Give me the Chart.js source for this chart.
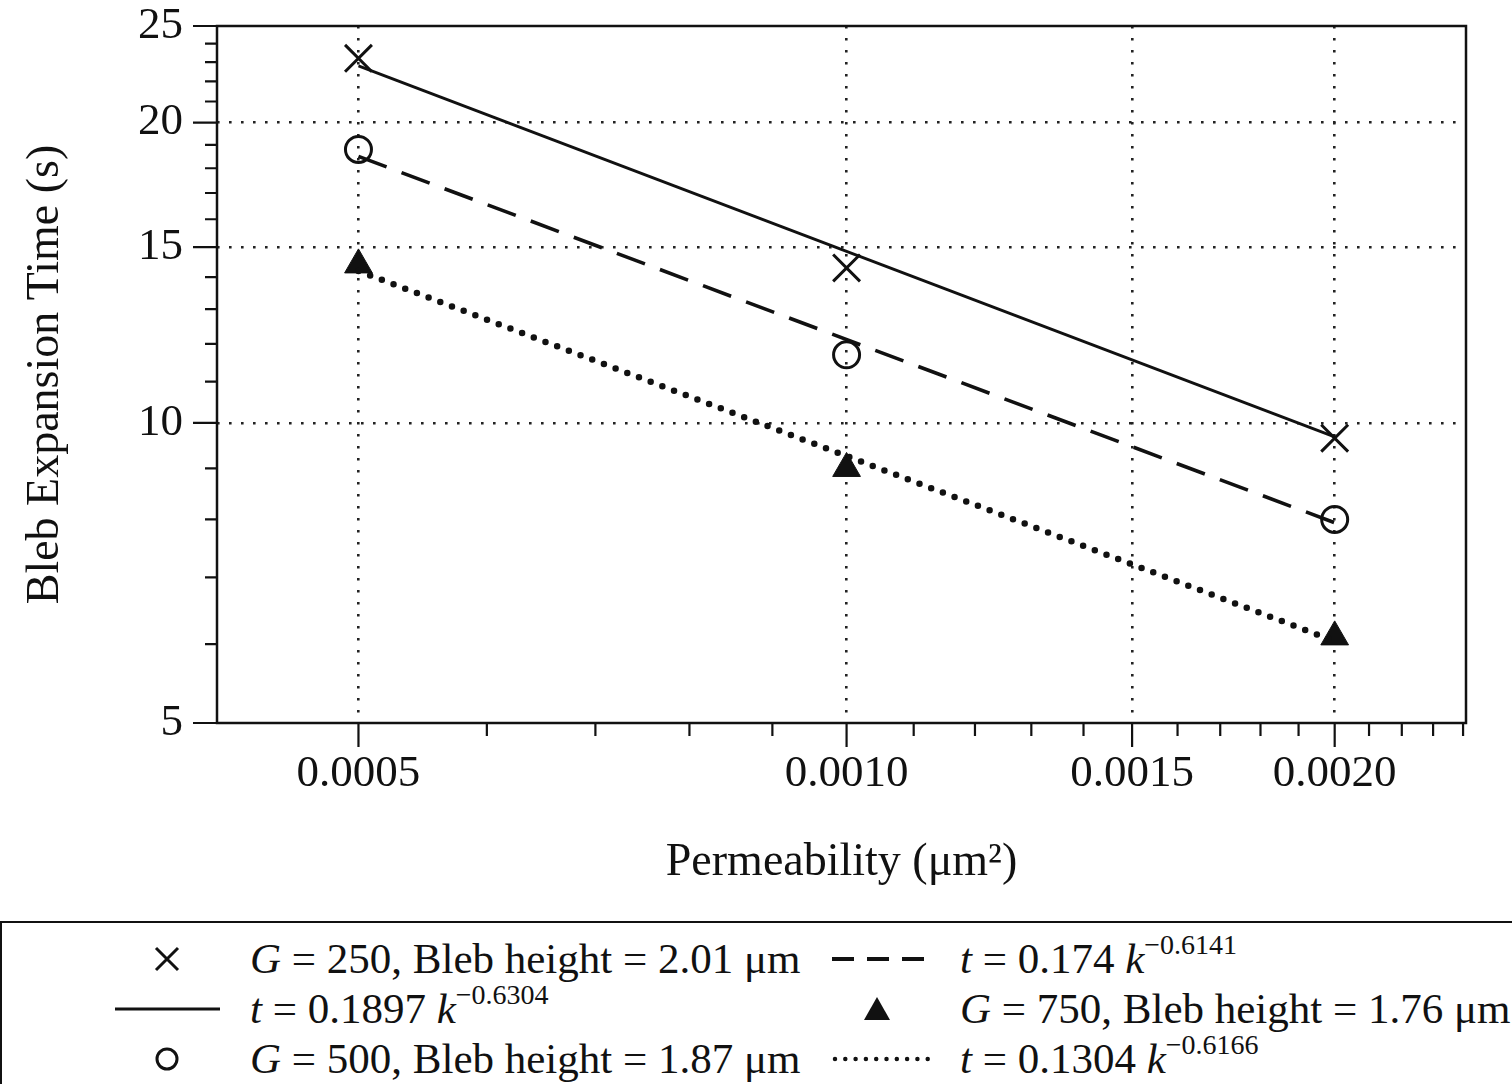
<!DOCTYPE html>
<html>
<head>
	<meta charset="UTF-8">
	<title>bleb expansion</title>
	<script src="https://cdn.jsdelivr.net/npm/chart.js"></script>
	<style>
	body{margin:0; background:#fff; width:1512px; height:1084px; overflow:hidden; position:relative;}
	#wrap{position:absolute; left:0; top:0; width:1512px; height:915px;}
	#legend{position:absolute; left:0; top:921px; width:1530px; height:200px; border:2px solid #111; box-sizing:border-box;
		font-family:"Liberation Serif", "DejaVu Serif", serif; font-size:43px; color:#111;}
	.row{position:absolute; left:0; height:50px; line-height:50px; white-space:nowrap;}
	.sym{position:absolute; top:0; height:50px;}
	.txt{position:absolute; top:0;}
	.txt i{font-style:italic;}
	.txt sup{font-size:28px; vertical-align:0; position:relative; top:-19px;}
	</style>
	<script>
	// data
	var perm = [0.0005, 0.0010, 0.0020];
	var g250 = [23.2, 14.3, 9.65];
	var g500 = [18.8, 11.7, 8.0];
	var g750 = [14.4, 9.0, 6.1];

	// fitted power law lines, endpoints
	var fitX = [0.0005, 0.0020];
	var fit250 = [22.8, 9.68];
	var fit500 = [18.5, 7.94];
	var fit750 = [14.2, 6.04];

	var xTicks = [0.0005, 0.0006, 0.0007, 0.0008, 0.0009, 0.0010, 0.0011, 0.0012, 0.0013, 0.0014, 0.0015,
		0.0016, 0.0017, 0.0018, 0.0019, 0.0020, 0.0021, 0.0022, 0.0023, 0.0024];
	var xLabels = {'0.0005':'0.0005', '0.001':'0.0010', '0.0015':'0.0015', '0.002':'0.0020'};
	var yTicks = [5, 6, 7, 8, 9, 10, 11, 12, 13, 14, 15, 16, 17, 18, 19, 20, 21, 22, 23, 24, 25];
	var yLabels = {'5':'5', '10':'10', '15':'15', '20':'20', '25':'25'};

	function pts(xs, ys){
		var out = [];
		for(var i=0;i<xs.length;i++) out.push({x:xs[i], y:ys[i]});
		return out;
	}
	function xKey(v){ return String(Math.round(v*10000)/10000); }
	function yKey(v){ return String(Math.round(v)); }

	var FONT = "'Liberation Serif', 'DejaVu Serif', serif";
	var INK = '#111';

	// frame + tick marks drawn from the scales
	var frameTicks = {
		id:'frameTicks',
		afterDraw: function(chart){
			var ctx = chart.ctx, a = chart.chartArea;
			var xs = chart.scales.x, ys = chart.scales.y;
			ctx.save();
			ctx.strokeStyle = INK;
			ctx.lineWidth = 2.5;
			ctx.strokeRect(a.left, a.top, a.right-a.left, a.bottom-a.top);
			ctx.lineWidth = 2.2;
			ctx.beginPath();
			xs.ticks.forEach(function(t){
				var px = xs.getPixelForValue(t.value);
				var len = xLabels[xKey(t.value)] ? 24 : 13;
				ctx.moveTo(px, a.bottom); ctx.lineTo(px, a.bottom+len);
			});
			ys.ticks.forEach(function(t){
				var py = ys.getPixelForValue(t.value);
				var len = yLabels[yKey(t.value)] ? 24 : 12;
				ctx.moveTo(a.left-len, py); ctx.lineTo(a.left, py);
			});
			ctx.stroke();
			ctx.restore();
		}
	};

	window.onload = function(){
		var ctx = document.getElementById('myChart');
		new Chart(ctx, {
			type:'line',
			data:{
				datasets:[{
					label:'t = 0.1897 k^-0.6304',
					data:pts(fitX, fit250),
					borderColor:INK, borderWidth:2.8, pointRadius:0, fill:false
				},{
					label:'t = 0.174 k^-0.6141',
					data:pts(fitX, fit500),
					borderColor:INK, borderWidth:3.6, borderDash:[30,16], pointRadius:0, fill:false
				},{
					label:'t = 0.1304 k^-0.6166',
					data:pts(fitX, fit750),
					borderColor:INK, borderWidth:6.5, borderDash:[0,12.5], borderCapStyle:'round', pointRadius:0, fill:false
				},{
					label:'G = 250, Bleb height = 2.01 μm',
					data:pts(perm, g250), showLine:false,
					pointStyle:'crossRot', pointRadius:19, pointBorderWidth:3, pointBorderColor:INK
				},{
					label:'G = 500, Bleb height = 1.87 μm',
					data:pts(perm, g500), showLine:false,
					pointStyle:'circle', pointRadius:13, pointBorderWidth:3, pointBorderColor:INK, pointBackgroundColor:'rgba(0,0,0,0)'
				},{
					label:'G = 750, Bleb height = 1.76 μm',
					data:pts(perm, g750), showLine:false,
					pointStyle:'triangle', pointRadius:16, pointBorderWidth:1, pointBorderColor:INK, pointBackgroundColor:INK
				}]
			},
			options:{
				responsive:false,
				animation:false,
				events:[],
				layout:{padding:{top:26, right:46, left:0, bottom:0}},
				plugins:{legend:{display:false}, tooltip:{enabled:false}},
				scales:{
					x:{
						type:'logarithmic',
						min:0.000409, max:0.00241,
						afterBuildTicks:function(s){ s.ticks = xTicks.map(function(v){ return {value:v}; }); },
						afterFit:function(s){ s.height = 192; s.paddingLeft = 0; s.paddingRight = 0; },
						ticks:{
							autoSkip:false, maxRotation:0, minRotation:0, padding:24, color:INK,
							font:{family:FONT, size:45},
							callback:function(v){ return xLabels[xKey(v)] || ''; }
						},
						grid:{
							drawTicks:false, lineWidth:2.6,
							color:function(c){ return (c.tick && xLabels[xKey(c.tick.value)]) ? '#222' : 'rgba(0,0,0,0)'; }
						},
						border:{display:false, dash:[2.6,9.4]},
						title:{display:true, text:'Permeability (μm²)', color:INK, padding:{top:0, bottom:24},
							font:{family:FONT, size:46}}
					},
					y:{
						type:'logarithmic',
						min:5, max:25,
						afterBuildTicks:function(s){ s.ticks = yTicks.map(function(v){ return {value:v}; }); },
						afterFit:function(s){ s.width = 217; s.paddingTop = 0; s.paddingBottom = 0; },
						ticks:{
							autoSkip:false, padding:34, color:INK,
							font:{family:FONT, size:45},
							callback:function(v){ return yLabels[yKey(v)] || ''; }
						},
						grid:{
							drawTicks:false, lineWidth:2.6,
							color:function(c){
								if(!c.tick) return 'rgba(0,0,0,0)';
								var k = yKey(c.tick.value);
								return (yLabels[k] && k!=='5' && k!=='25') ? '#222' : 'rgba(0,0,0,0)';
							}
						},
						border:{display:false, dash:[2.6,9.4]},
						title:{display:true, text:'Bleb Expansion Time (s)', color:INK, padding:{top:18, bottom:0},
							font:{family:FONT, size:46}}
					}
				}
			},
			plugins:[frameTicks]
		});
	};
	</script>
</head>
<body>
	<div id="wrap">
		<canvas id="myChart" width="1512" height="915"></canvas>
	</div>
	<div id="legend">
		<div class="row" style="top:11px; width:1530px;">
			<svg class="sym" style="left:145px; width:40px;" viewBox="0 0 40 50"><path d="M9 14 L31 36 M31 14 L9 36" stroke="#111" stroke-width="3"/></svg>
			<span class="txt" style="left:248px;"><i>G</i> = 250, Bleb height = 2.01 μm</span>
			<svg class="sym" style="left:830px; width:92px;" viewBox="0 0 92 50"><path d="M0 25 L92 25" stroke="#111" stroke-width="4" stroke-dasharray="22 13"/></svg>
			<span class="txt" style="left:958px;"><i>t</i> = 0.174 <i>k</i><sup>−0.6141</sup></span>
		</div>
		<div class="row" style="top:61px; width:1530px;">
			<svg class="sym" style="left:113px; width:105px;" viewBox="0 0 105 50"><path d="M0 25 L105 25" stroke="#111" stroke-width="3"/></svg>
			<span class="txt" style="left:248px;"><i>t</i> = 0.1897 <i>k</i><sup>−0.6304</sup></span>
			<svg class="sym" style="left:860px; width:30px;" viewBox="0 0 30 50"><path d="M15 13 L28 36 L2 36 Z" fill="#111"/></svg>
			<span class="txt" style="left:958px;"><i>G</i> = 750, Bleb height = 1.76 μm</span>
		</div>
		<div class="row" style="top:111px; width:1530px;">
			<svg class="sym" style="left:145px; width:40px;" viewBox="0 0 40 50"><circle cx="20" cy="25" r="10" fill="none" stroke="#111" stroke-width="3"/></svg>
			<span class="txt" style="left:248px;"><i>G</i> = 500, Bleb height = 1.87 μm</span>
			<svg class="sym" style="left:830px; width:98px;" viewBox="0 0 98 50"><path d="M3 25 L96 25" stroke="#111" stroke-width="4.5" stroke-linecap="round" stroke-dasharray="0 10.3"/></svg>
			<span class="txt" style="left:958px;"><i>t</i> = 0.1304 <i>k</i><sup>−0.6166</sup></span>
		</div>
	</div>
</body>
</html>
